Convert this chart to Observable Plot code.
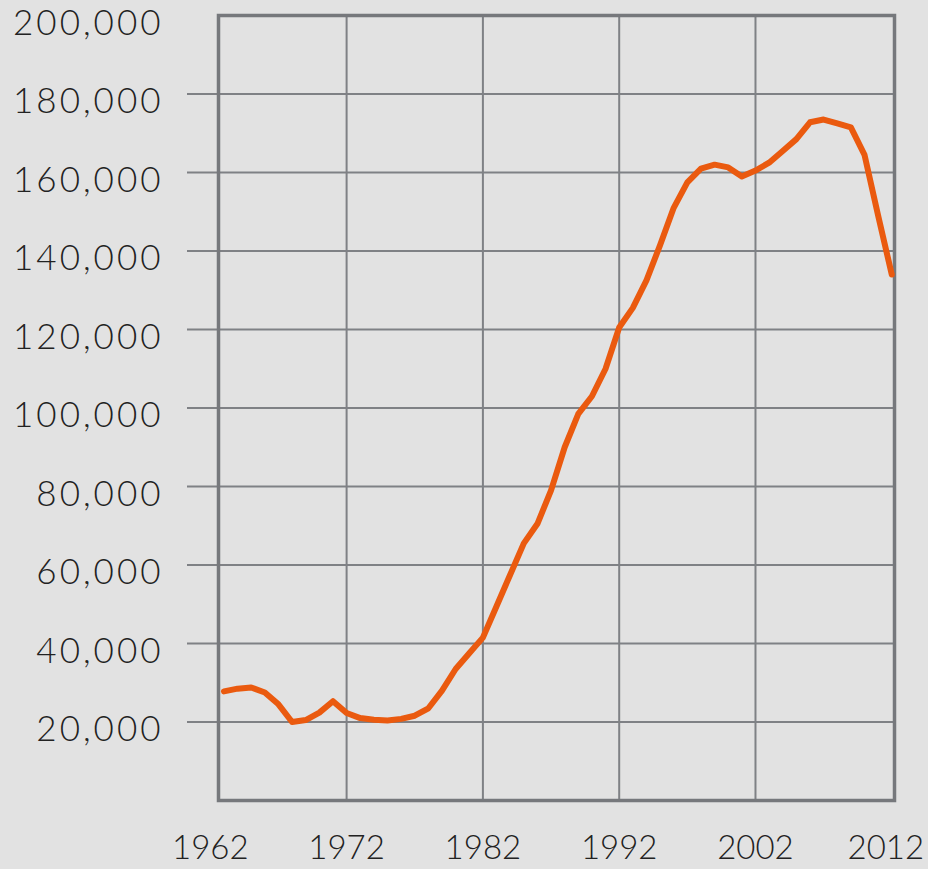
<!DOCTYPE html>
<html><head><meta charset="utf-8">
<script src="https://cdn.jsdelivr.net/npm/d3@7"></script>
<script src="https://cdn.jsdelivr.net/npm/@observablehq/plot@0.6"></script>
<style>html,body{margin:0;padding:0;background:#e2e2e2;}</style>
</head><body><div id="chart"></div>
<script>
const years = [1963,1964,1965,1966,1967,1968,1969,1970,1971,1972,1973,1974,1975,1976,1977,1978,1979,1980,1981,1982,1983,1984,1985,1986,1987,1988,1989,1990,1991,1992,1993,1994,1995,1996,1997,1998,1999,2000,2001,2002,2003,2004,2005,2006,2007,2008,2009,2010,2011,2012];
const values = [27800,28500,28800,27500,24500,20000,20500,22400,25300,22300,21000,20600,20400,20800,21600,23500,28000,33500,37500,41500,49500,57500,65500,70500,79000,90000,98500,103000,110000,120500,125500,132500,141500,151000,157500,161000,162000,161300,159000,160500,162500,165500,168500,172800,173500,172500,171500,164500,149000,134000];
const yTicks = [20000,40000,60000,80000,100000,120000,140000,160000,180000,200000];
const gridYears = [1972,1982,1992,2002];
const xTickLabels = [1962,1972,1982,1992,2002];
const xLastLabel = [2012];

const data = years.map((y, i) => ({year: y, value: values[i]}));
const gridCol = "#7f8185";

const chart = Plot.plot({
  width: 928, height: 869,
  marginLeft: 218, marginRight: 34, marginTop: 15, marginBottom: 69,
  x: {domain: [1962.6, 2012.2]},
  y: {domain: [0, 200000]},
  style: {background: "#e2e2e2", fontFamily: "Lato", fontSize: "35px", color: "#222", fontWeight: 300},
  marks: [
    Plot.gridY(yTicks.slice(0, -1), {stroke: gridCol, strokeOpacity: 1, strokeWidth: 2}),
    Plot.gridX(gridYears, {stroke: gridCol, strokeOpacity: 1, strokeWidth: 2}),
    Plot.axisY(yTicks.slice(0, -1), {tickSize: 31, tickFormat: () => "", stroke: gridCol, strokeWidth: 2, label: null}),
    Plot.axisY(yTicks, {tickSize: 0, tickPadding: 55, tickFormat: d3.format(","), dy: 8, label: null, fill: "#222"}),
    Plot.axisX(xTickLabels, {tickSize: 0, tickPadding: 35, tickFormat: d => String(d), label: null, fill: "#222", fontSize: 33}),
    Plot.axisX(xLastLabel, {tickSize: 0, tickPadding: 35, tickFormat: d => String(d), label: null, fill: "#222", fontSize: 33, dx: -6}),
    Plot.frame({stroke: "#76787c", strokeWidth: 3.5}),
    Plot.line(data, {x: "year", y: "value", stroke: "#ea5a0f", strokeWidth: 6, strokeLinejoin: "round", curve: "linear"})
  ]
});
d3.select(chart).selectAll('g[aria-label="y-axis tick label"] text').style("letter-spacing", "3px");
document.getElementById("chart").append(chart);
</script>
</body></html>
